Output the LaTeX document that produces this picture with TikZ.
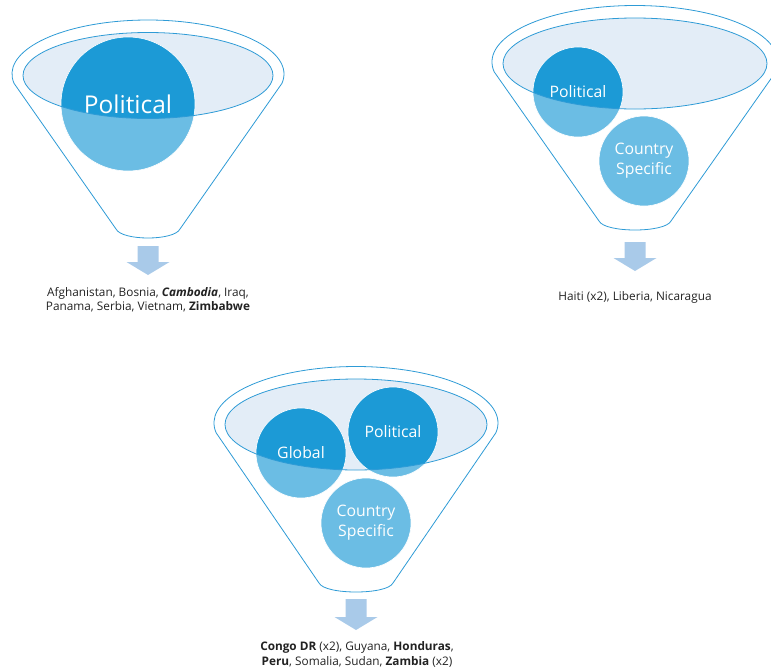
\documentclass[tikz,border=0pt]{standalone}
\usepackage{fontspec}
\setmainfont{Open Sans}
\usepackage{tikz}
\usetikzlibrary{calc}

\definecolor{discblue}{HTML}{1C9AD6}
\definecolor{rimblue}{HTML}{E3EDF7}
\definecolor{edgeblue}{HTML}{2E9BD6}
\definecolor{arrowblue}{HTML}{A9CAE9}
\definecolor{listgray}{HTML}{222222}

% funnel outline: cx, cy, rx, ry (inner rim), neck half width, bottom y
\newcommand{\funneloutline}[6]{%
  ([shift={(#1,#2)}]170:{#3+11} and {#4+11})
  arc[start angle=170, end angle=370, x radius={#3+11}, y radius={#4+11}]
  -- ({#1+#5},{#6-9}) .. controls ({#1+#5-6},{#6+3}) and ({#1-#5+6},{#6+3}) .. ({#1-#5},{#6-9})
  -- cycle}
\newcommand{\funnelrim}[4]{%
  \fill[rimblue] (#1,{#2+1.5}) ellipse[x radius=#3, y radius=#4];}
\newcommand{\funnelglass}[6]{%
  \fill[glass, even odd rule] \funneloutline{#1}{#2}{#3}{#4}{#5}{#6}
    (#1,{#2+1.5}) ellipse[x radius=#3, y radius=#4];
  \draw[edge] (#1,{#2+1.5}) ellipse[x radius=#3, y radius=#4];
  \draw[edge] \funneloutline{#1}{#2}{#3}{#4}{#5}{#6};}
% block arrow: x, top y, length
\newcommand{\flowarrow}[3]{%
  \fill[arrowblue] ({#1-10.5},#2) -- ({#1+10.5},#2) -- ({#1+10.5},{#2+#3-13})
    -- ({#1+21.5},{#2+#3-13}) -- (#1,{#2+#3}) -- ({#1-21.5},{#2+#3-13})
    -- ({#1-10.5},{#2+#3-13}) -- cycle;}

\begin{document}
\begin{tikzpicture}[x=1pt, y=-1pt,
    disc/.style={circle, fill=discblue, draw=white, line width=0.6pt, text=white,
      minimum size=90pt, inner sep=0pt, align=center,
      font=\fontsize{15.8}{20}\selectfont},
    bigdisc/.style={disc, minimum size=134pt, font=\fontsize{24.5}{28}\selectfont},
    glass/.style={white, opacity=0.35},
    edge/.style={draw=edgeblue, line width=0.8pt},
    caption/.style={align=center, text=listgray, inner sep=0pt,
      font=\fontsize{11.8}{14.5}\selectfont}]
  \useasboundingbox (0,0) rectangle (771,670);

  % rims
  \funnelrim{148}{74}{125}{43}
  \funnelrim{635}{62}{132}{45.5}
  \funnelrim{356}{423}{131}{45.5}

  % contents
  \node[bigdisc] (pol1) at (128,104) {Political};
  \node[disc] (pol2) at (578,92) {Political};
  \node[disc] (cs2) at (644,161) {Country\\Specific};
  \node[disc] (glob3) at (301,453) {Global};
  \node[disc] (pol3) at (393,432) {Political};
  \node[disc] (cs3) at (366,523) {Country\\Specific};

  % funnel bodies
  \funnelglass{148}{74}{125}{43}{32}{238}
  \funnelglass{635}{62}{132}{45.5}{36}{230}
  \funnelglass{356}{423}{131}{45.5}{37}{592}

  \flowarrow{148}{246}{29}
  \flowarrow{635}{242}{29}
  \flowarrow{356}{599}{31}

  \node[caption] (list1) at (148,299.5)
    {Afghanistan, Bosnia, \textbf{\textit{Cambodia}}, Iraq,\\
     Panama, Serbia, Vietnam, \textbf{Zimbabwe}};
  \node[caption] (list2) at (635,297) {Haiti (x2), Liberia, Nicaragua};
  \node[caption] (list3) at (357,654.5)
    {\textbf{Congo DR} (x2), Guyana, \textbf{Honduras},\\
     \textbf{Peru}, Somalia, Sudan, \textbf{Zambia} (x2)};
\end{tikzpicture}
\end{document}
